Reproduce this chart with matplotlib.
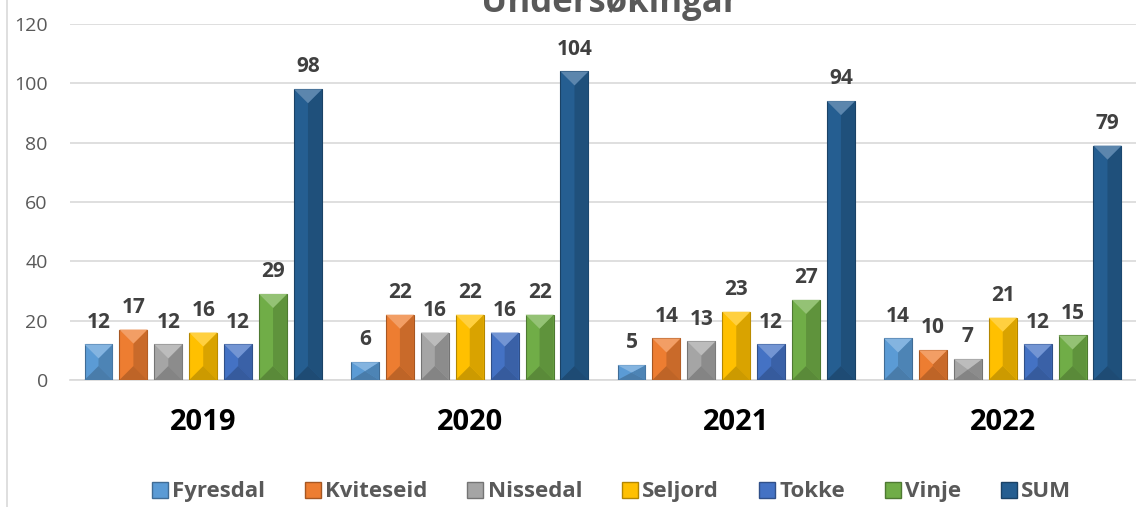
import matplotlib.pyplot as plt
from matplotlib.lines import Line2D
from matplotlib.patches import Polygon
import matplotlib.colors as mcolors
import numpy as np

years = ['2019', '2020', '2021', '2022']
kommunar = ['Fyresdal', 'Kviteseid', 'Nissedal', 'Seljord', 'Tokke', 'Vinje', 'SUM']
fyresdal = [12, 6, 5, 14]
kviteseid = [17, 22, 14, 10]
nissedal = [12, 16, 13, 7]
seljord = [16, 22, 23, 21]
tokke = [12, 16, 12, 12]
vinje = [29, 22, 27, 15]
total = [98, 104, 94, 79]
colors = ['#5B9BD5', '#ED7D31', '#A5A5A5', '#FFC000', '#4472C4', '#70AD47', '#255E91']

series = [fyresdal, kviteseid, nissedal, seljord, tokke, vinje, total]

plt.rcParams['font.family'] = ['Open Sans', 'DejaVu Sans']


def shade(c, f):
    r, g, b = mcolors.to_rgb(c)
    if f > 1:
        return (r + (1 - r) * (f - 1), g + (1 - g) * (f - 1), b + (1 - b) * (f - 1))
    return (r * f, g * f, b * f)


fig = plt.figure(figsize=(11.36, 5.07), dpi=100)
ax = fig.add_axes([0.0616, 0.2505, 0.9384, 0.7022])

x = np.arange(len(years))
bar_w = 0.105
step = 0.131

all_bars = []
for i, (name, vals, col) in enumerate(zip(kommunar, series, colors)):
    pos = x + (i - 3) * step
    bars = ax.bar(pos, vals, bar_w, color=col, edgecolor=shade(col, 0.7),
                  linewidth=0.8, zorder=3, label=name)
    all_bars.append((bars, col))
    for p, v in zip(pos, vals):
        ax.text(p, v + 4, str(v), ha='center', va='bottom', fontsize=15,
                fontweight='bold', color='#404040', zorder=5)

ax.set_ylim(0, 120)
ax.set_xlim(-0.5, 3.5)
ax.set_yticks(range(0, 121, 20))
ax.yaxis.grid(True, color='#D9D9D9', linewidth=1.2, zorder=0)
ax.set_axisbelow(True)
for s in ['top', 'right', 'left']:
    ax.spines[s].set_visible(False)
ax.spines['bottom'].set_color('#D9D9D9')
ax.spines['bottom'].set_linewidth(1.2)
ax.tick_params(axis='y', length=0, labelsize=14, labelcolor='#595959', pad=16)
ax.tick_params(axis='x', length=0, pad=20)
ax.set_xticks(x)
ax.set_xticklabels(years, fontsize=21, fontweight='bold', color='black')

# bevel look: light top triangle and dark bottom triangle on each bar
fig.canvas.draw()
to_data = ax.transData.inverted()
for bars, col in all_bars:
    for b in bars:
        x0, w, h = b.get_x(), b.get_width(), b.get_height()
        px0 = ax.transData.transform((x0, 0))
        px1 = ax.transData.transform((x0 + w, 0))
        half = (px1[0] - px0[0]) / 2
        dy = to_data.transform((0, half))[1] - to_data.transform((0, 0))[1]
        dy = min(dy, h / 2)
        top = Polygon([(x0, h), (x0 + w, h), (x0 + w / 2, h - dy)], closed=True,
                      facecolor=shade(col, 1.25), edgecolor='none', zorder=4)
        bot = Polygon([(x0, 0), (x0 + w, 0), (x0 + w / 2, dy)], closed=True,
                      facecolor=shade(col, 0.8), edgecolor='none', zorder=4)
        right = Polygon([(x0 + w, 0), (x0 + w, h), (x0 + w / 2, h - dy), (x0 + w / 2, dy)],
                        closed=True, facecolor=shade(col, 0.85), edgecolor='none', zorder=4)
        ax.add_patch(right)
        ax.add_patch(top)
        ax.add_patch(bot)

fig.text(0.537, 0.995, 'Undersøkingar', ha='center', va='center', fontsize=25,
         fontweight='bold', color='#595959')

handles = [Line2D([0], [0], marker='s', linestyle='none', markersize=11,
                  markerfacecolor=c, markeredgecolor=shade(c, 0.7)) for c in colors]
fig.legend(handles, kommunar, loc='center', bbox_to_anchor=(0.537, 0.03), ncol=7,
           frameon=False, handletextpad=0.05, columnspacing=1.65, handlelength=1.0,
           prop={'size': 16, 'weight': 'bold'}, labelcolor='#595959')

fig.add_artist(Line2D([0.006, 0.006], [0, 1], color='#D9D9D9', linewidth=1.2))

fig.savefig('out.png', dpi=100)
